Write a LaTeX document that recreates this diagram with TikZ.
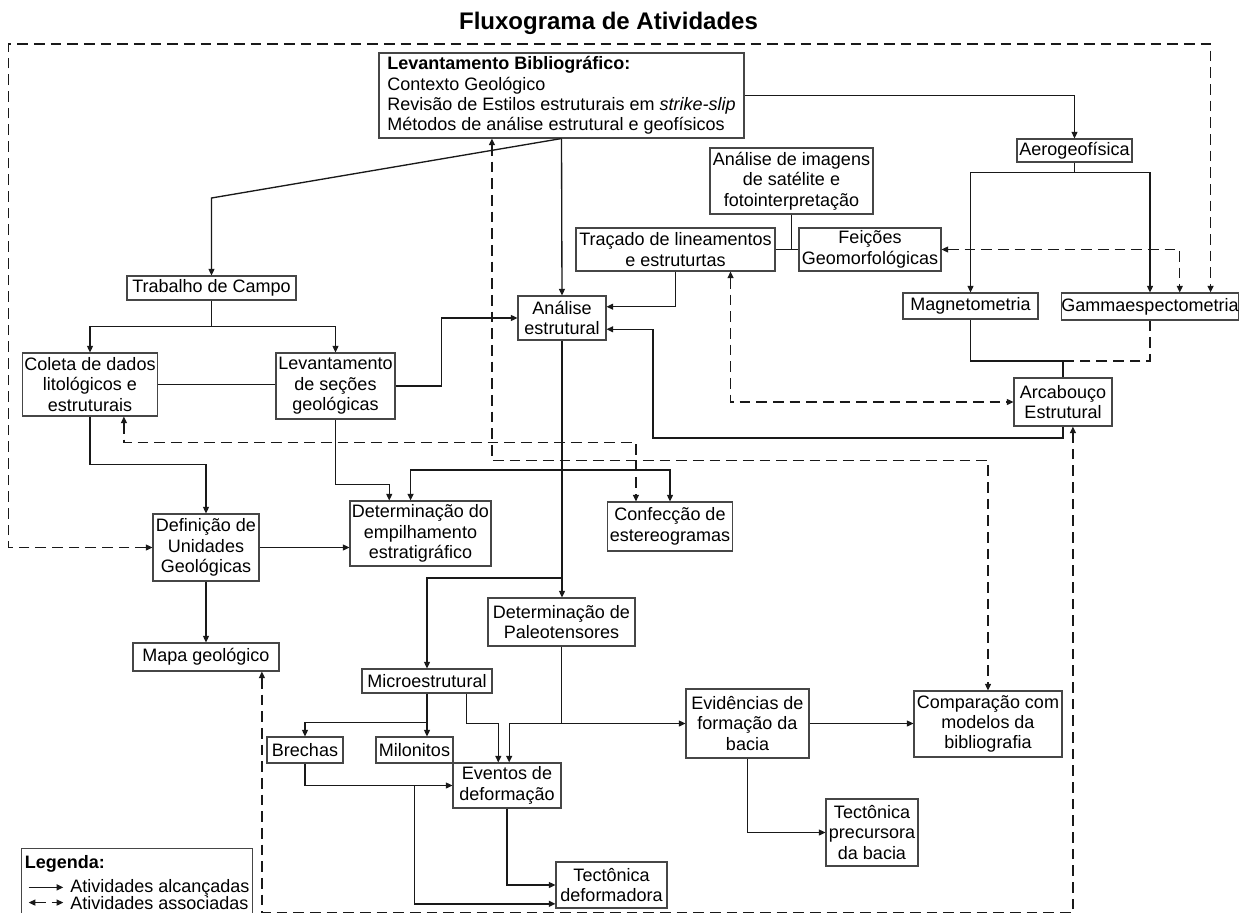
\documentclass[tikz,border=0pt]{standalone}
\usepackage{fontspec}
\setmainfont{Liberation Sans}
\definecolor{boxgray}{RGB}{70,70,70}
\definecolor{linegray}{RGB}{25,25,25}
\usetikzlibrary{arrows.meta,calc}

\begin{document}
\begin{tikzpicture}[x=0.75pt, y=-0.75pt,
    box/.style={draw=boxgray, line width=0.8pt, align=center, inner sep=1pt,
      font=\fontsize{13.5pt}{15.3pt}\selectfont},
    legtext/.style={anchor=base west, inner sep=0pt, font=\fontsize{13.5pt}{15.3pt}\selectfont},
    link/.style={draw=linegray, line width=1pt},
    flow/.style={link, -{Triangle[length=5pt,width=4.5pt]}},
    assocline/.style={link, dash pattern=on 8pt off 4.5pt},
    assoc/.style={assocline, {Triangle[length=5pt,width=4.5pt]}-{Triangle[length=5pt,width=4.5pt]}}]
    \useasboundingbox (0,0) rectangle (1239,913);
    \clip (0,0) rectangle (1239,913);

    \node[font=\fontsize{18pt}{20pt}\selectfont\bfseries, anchor=base] (titulo) at (608.5,29.5) {Fluxograma de Atividades};

    \node[box, align=left, minimum width=273.75pt, minimum height=63.75pt] (biblio) at (561.5,95.5) {
      \textbf{Levantamento Bibliográfico:}\\
      Contexto Geológico\\
      Revisão de Estilos estruturais em \textit{strike-slip}\\
      Métodos de análise estrutural e geofísicos};
    \node[box, minimum width=86.25pt, minimum height=17.25pt] (aero) at (1074.5,150.5) {Aerogeofísica};
    \node[box, minimum width=122.25pt, minimum height=49.5pt] (imagens) at (791.5,181) {Análise de imagens\\de satélite e\\fotointerpretação};
    \node[box, minimum width=149.25pt, minimum height=32.25pt] (tracado) at (675.5,249.5) {Traçado de lineamentos\\e estruturtas};
    \node[box, minimum width=106.5pt, minimum height=32.25pt] (feicoes) at (870,249.5) {Feições\\Geomorfológicas};
    \node[box, minimum width=101.25pt, minimum height=19.5pt] (magneto) at (970.5,306) {Magnetometria};
    \node[box, inner xsep=0pt, minimum height=20.25pt] (gama) at (1150,306.5) {Gammaespectometria};
    \node[box, minimum width=126.75pt, minimum height=18pt] (campo) at (211.5,288) {Trabalho de Campo};
    \node[box, minimum width=66pt, minimum height=33pt] (analise) at (562,318) {Análise\\estrutural};
    \node[box, minimum width=100.9pt, minimum height=47.25pt] (coleta) at (90,384.5) {Coleta de dados\\litológicos e\\estruturais};
    \node[box, minimum width=89.25pt, minimum height=49.5pt] (secoes) at (335.5,386) {Levantamento\\de seções\\geológicas};
    \node[box, minimum width=73.5pt, minimum height=36pt] (arcabouco) at (1063,402) {Arcabouço\\Estrutural};
    \node[box, minimum width=79.5pt, minimum height=50.25pt] (unidades) at (206,547.5) {Definição de\\Unidades\\Geológicas};
    \node[box, minimum width=105.75pt, minimum height=48.75pt] (empilhamento) at (420.5,533.5) {Determinação do\\empilhamento\\estratigráfico};
    \node[box, minimum width=93.75pt, minimum height=36.75pt] (estereo) at (670,526.5) {Confecção de\\estereogramas};
    \node[box, minimum width=110.25pt, minimum height=36pt] (paleo) at (561.5,622) {Determinação de\\Paleotensores};
    \node[box, minimum width=109.5pt, minimum height=21pt] (mapa) at (206,657) {Mapa geológico};
    \node[box, minimum width=97.5pt, minimum height=18pt] (micro) at (427,681) {Microestrutural};
    \node[box, minimum width=57pt, minimum height=19.5pt] (brechas) at (305,750) {Brechas};
    \node[box, minimum width=57.75pt, minimum height=19.5pt] (milonitos) at (414.5,750) {Milonitos};
    \node[box, minimum width=81pt, minimum height=33.75pt] (eventos) at (507,785.5) {Eventos de\\deformação};
    \node[box, minimum width=83.25pt, minimum height=34.5pt] (deformadora) at (611.5,885) {Tectônica\\deformadora};
    \node[box, minimum width=92.25pt, minimum height=51.75pt] (evidencias) at (747.5,723.5) {Evidências de\\formação da\\bacia};
    \node[box, minimum width=111pt, minimum height=49.5pt] (comparacao) at (988,724) {Comparação com\\modelos da\\bibliografia};
    \node[box, minimum width=69pt, minimum height=50.25pt] (precursora) at (872,832.5) {Tectônica\\precursora\\da bacia};

    \node[box, anchor=north west, minimum width=173.25pt, minimum height=70pt] (legenda) at (21,848) {};
    \node[legtext, font=\fontsize{13.5pt}{15.3pt}\selectfont\bfseries] (legtit) at (24.5,868) {Legenda:};
    \node[legtext] (legsol) at (70,892) {Atividades alcançadas};
    \node[legtext] (legass) at (70,909) {Atividades associadas};
    \draw[flow] ([xshift=-31pt]legsol.west) -- ([xshift=-5pt]legsol.west);
    \draw[assoc] ([xshift=-31pt]legass.west) -- ([xshift=-5pt]legass.west);

    \draw[flow] (biblio.south) -- (campo.north |- 0,198) -- (campo.north);
    \draw[flow] (biblio.south) -- (analise.north);
    \draw[flow] (biblio.east) -| (aero.north);
    \draw[flow] (aero.south) -- ++(0,10) -| (magneto.north);
    \draw[flow] (aero.south) -- ++(0,10) -| (gama.north);
    \draw[link] (tracado.east) -- (feicoes.west);
    \draw[link] (imagens.south) -- (imagens.south |- tracado.east);
    \draw[flow] (tracado.south) |- ($(analise.north east)!.25!(analise.south east)$);
    \draw[flow] (arcabouco.south) |- (653,438) |- ($(analise.north east)!.75!(analise.south east)$);
    \coordinate (mg) at (arcabouco.north |- 0,361);
    \draw[link] (magneto.south) |- (mg) -- (arcabouco.north);
    \draw[assocline] (gama.south) |- (mg);

    \draw[flow] (campo.south) -- ++(0,26) -| (coleta.north);
    \draw[flow] (campo.south) -- ++(0,26) -| (secoes.north);
    \draw[link] (coleta.east) -- (coleta.east -| secoes.west);
    \draw[flow] (secoes.east) -- ++(46,0) |- (analise.west);
    \draw[flow] (coleta.south) -- ++(0,48) -| (unidades.north);
    \draw[flow] (secoes.south) -- ++(0,65) -| ($(empilhamento.north west)!.28!(empilhamento.north east)$);
    \draw[flow] (analise.south) -- (analise.south |- paleo.north);
    \coordinate (a1) at (analise.south |- 0,470);
    \draw[flow] (a1) -| ($(empilhamento.north west)!.43!(empilhamento.north east)$);
    \draw[flow] (a1) -| (estereo.north);
    \coordinate (a2) at (analise.south |- 0,578);
    \draw[flow] (a2) -| (micro.north);
    \draw[flow] (unidades.east) -- (unidades.east -| empilhamento.west);
    \draw[flow] (unidades.south) -- (mapa.north);

    \draw[flow] (micro.south) -- (micro.south |- milonitos.north);
    \draw[flow] (micro.south) -- ++(0,29) -| (brechas.north);
    \draw[flow] ($(micro.south west)!.8!(micro.south east)$) -- ++(0,30) -| ($(eventos.north west)!.42!(eventos.north east)$);
    \coordinate (p1) at (paleo.south |- evidencias.west);
    \draw[flow] (paleo.south) -- (p1) -- (evidencias.west);
    \draw[flow] (p1) -| ($(eventos.north west)!.52!(eventos.north east)$);
    \draw[flow] (brechas.south) |- (eventos.west);
    \coordinate (b1) at (milonitos.south |- eventos.west);
    \draw[flow] (b1) |- ($(deformadora.north west)!.9!(deformadora.south west)$);
    \draw[flow] (eventos.south) |- (deformadora.west);
    \draw[flow] (evidencias.east) -- (evidencias.east -| comparacao.west);
    \draw[flow] (evidencias.south) |- (precursora.west);

    \coordinate (g2) at ($(gama.north west)!.667!(gama.north east)$);
    \coordinate (g3) at ($(gama.north west)!.84!(gama.north east)$);
    \draw[assoc] (unidades.west) -- ++(-144,0) |- (g3 |- 0,44) -- (g3);
    \draw[assoc] (feicoes.east) -| (g2);
    \draw[assoc] ($(tracado.south west)!.775!(tracado.south east)$) |- (arcabouco.west);
    \draw[assoc] ($(coleta.south west)!.75!(coleta.south east)$) -- ++(0,26) -| ($(estereo.north west)!.23!(estereo.north east)$);
    \draw[assoc] ($(biblio.south west)!.31!(biblio.south east)$) -- ++(0,322) -| (comparacao.north);
    \draw[assoc] ($(mapa.south west)!.88!(mapa.south east)$) -- ++(0,241.5) -| ($(arcabouco.south west)!.6!(arcabouco.south east)$);
\end{tikzpicture}
\end{document}
